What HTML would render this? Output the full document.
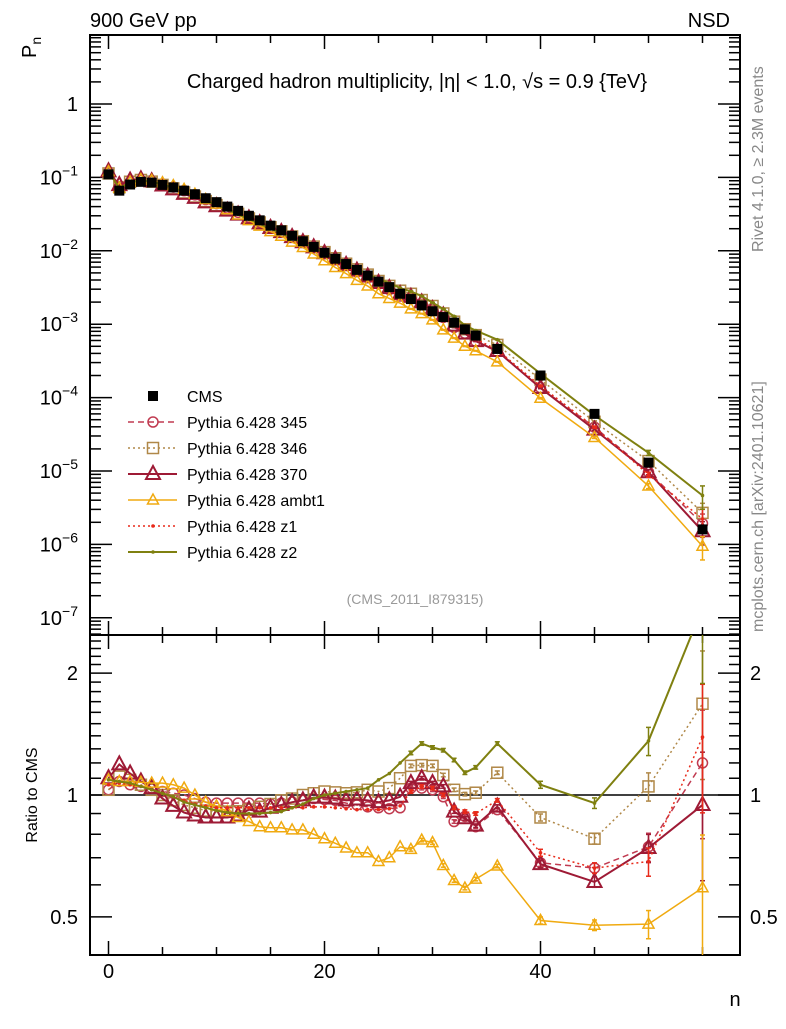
<!DOCTYPE html>
<html><head><meta charset="utf-8"><style>
body{margin:0;background:#fff}
svg text{font-family:"Liberation Sans",sans-serif;fill:#000}
</style></head><body>
<svg id="c" width="786" height="1024" xmlns="http://www.w3.org/2000/svg"></svg>
<script>
const nVals=[0,1,2,3,4,5,6,7,8,9,10,11,12,13,14,15,16,17,18,19,20,21,22,23,24,25,26,27,28,29,30,31,32,33,34,36,40,45,50,55];
const cmsVals=[0.11,0.066,0.08,0.087,0.085,0.079,0.073,0.066,0.059,0.052,0.046,0.040,0.035,0.030,0.026,0.022,0.019,0.016,0.0135,0.0113,0.0094,0.0078,0.0066,0.0055,0.0046,0.0038,0.0032,0.0026,0.0022,0.0018,0.0015,0.00125,0.00105,0.00085,0.0007,0.00046,0.0002,0.00006,0.000013,0.0000016];
const r345=[1.03,1.08,1.06,1.05,1.04,1.02,1.01,1.0,0.98,0.96,0.955,0.955,0.955,0.955,0.955,0.95,0.955,0.96,0.97,0.98,0.975,0.97,0.955,0.945,0.935,0.93,0.925,0.93,1.04,1.04,1.03,0.99,0.86,0.885,0.835,0.92,0.68,0.66,0.745,1.2];
const r346=[1.03,1.11,1.09,1.06,1.03,1.0,0.97,0.945,0.93,0.915,0.91,0.91,0.912,0.92,0.935,0.95,0.97,0.98,1.0,1.01,1.02,1.015,1.01,1.015,1.03,1.02,1.04,1.1,1.18,1.185,1.18,1.12,1.03,1.005,1.013,1.135,0.88,0.78,1.05,1.68];
const r370=[1.1,1.19,1.13,1.08,1.04,0.98,0.94,0.905,0.89,0.88,0.88,0.88,0.89,0.92,0.91,0.93,0.945,0.96,0.97,0.985,0.985,0.98,0.97,0.975,0.97,0.96,0.97,0.99,1.07,1.1,1.07,1.05,0.91,0.876,0.84,0.936,0.675,0.61,0.74,0.945];
const rAmbt1=[1.09,1.08,1.08,1.075,1.07,1.07,1.06,1.04,1.0,0.96,0.94,0.91,0.88,0.86,0.835,0.83,0.83,0.82,0.82,0.8,0.78,0.76,0.74,0.72,0.72,0.685,0.7,0.745,0.734,0.774,0.763,0.67,0.615,0.589,0.62,0.668,0.49,0.477,0.48,0.59];
const rZ1=[1.06,1.07,1.06,1.05,1.03,1.01,0.99,0.97,0.95,0.94,0.93,0.93,0.93,0.93,0.93,0.93,0.93,0.93,0.93,0.935,0.935,0.93,0.925,0.92,0.92,0.92,0.925,0.94,1.02,1.05,1.04,1.0,0.93,0.91,0.9,0.97,0.72,0.66,0.685,1.39];
const rZ2=[1.09,1.08,1.07,1.05,1.03,1.01,0.99,0.96,0.945,0.93,0.915,0.905,0.9,0.9,0.9,0.905,0.91,0.93,0.95,0.98,1.0,1.01,1.02,1.03,1.04,1.09,1.13,1.2,1.27,1.34,1.31,1.29,1.22,1.135,1.17,1.34,1.06,0.955,1.36,2.9];
const ratioErr=[0,0,0,0,0,0,0,0,0,0,0,0,0,0,0,0,0,0,0,0,0,0,0,0,0,0,0,0,0.01,0.01,0.01,0.01,0.01,0.01,0.01,0.01,0.02,0.03,0.08,0.35];
const mainTickExp=[0,-1,-2,-3,-4,-5,-6,-7];
const ratioTicks=[0.5,1,2];
const xTicks=[0,20,40];

const svg=document.getElementById('c');
const NS='http://www.w3.org/2000/svg';
const L=90,R=740,T=35,MB=635,RB=955;
const xs=n=>108.5+10.8*n;
const ym=v=>104-73.4*Math.log10(v);
const yr=v=>795-405*Math.log10(v);
function mk(tag,at,parent){const e=document.createElementNS(NS,tag);for(const k in at)e.setAttribute(k,at[k]);(parent||svg).appendChild(e);return e;}
function txt(s,x,y,size,anchor,extra){const t=mk('text',Object.assign({x:x,y:y,'font-size':size,'text-anchor':anchor||'start'},extra||{}));t.textContent=s;return t;}

const defs=mk('defs',{});
const c1=mk('clipPath',{id:'cm'},defs);mk('rect',{x:L,y:T,width:R-L,height:MB-T},c1);
const c2=mk('clipPath',{id:'cr'},defs);mk('rect',{x:L,y:MB,width:R-L,height:RB-MB},c2);

let f=mk('rect',{x:L,y:T,width:R-L,height:MB-T,fill:'none',stroke:'#000','stroke-width':2});

f=mk('rect',{x:L,y:MB,width:R-L,height:RB-MB,fill:'none',stroke:'#000','stroke-width':2});


for(let n=0;n<=55;n+=5){const major=xTicks.includes(n);const len=major?14:8;
 mk('line',{x1:xs(n),x2:xs(n),y1:T,y2:T+len,stroke:'#000','stroke-width':1.5});
 mk('line',{x1:xs(n),x2:xs(n),y1:MB,y2:MB-len,stroke:'#000','stroke-width':1.5});
 mk('line',{x1:xs(n),x2:xs(n),y1:MB,y2:MB+len,stroke:'#000','stroke-width':1.5});
 mk('line',{x1:xs(n),x2:xs(n),y1:RB,y2:RB-len,stroke:'#000','stroke-width':1.5});}
xTicks.forEach(n=>{const t=txt(String(n),xs(n),978,20,'middle');});
let t=txt('n',735,1006,20,'middle');

for(let e=1;e>=-8;e--){for(let m=1;m<10;m++){const v=m*Math.pow(10,e);const y=ym(v);if(y<T||y>MB)continue;const len=m==1?22:11;
 mk('line',{x1:L,x2:L+len,y1:y,y2:y,stroke:'#000','stroke-width':1.5});
 mk('line',{x1:R,x2:R-len,y1:y,y2:y,stroke:'#000','stroke-width':1.5});}}
mainTickExp.forEach(e=>{const y=ym(Math.pow(10,e));let t;
 if(e==0){t=txt('1',78,y+7,20,'end');}
 else{t=mk('text',{x:78,y:y+7,'font-size':20,'text-anchor':'end'});t.innerHTML='10<tspan dy="-9" font-size="14">'+(e<0?'−':'')+Math.abs(e)+'</tspan>';}
 });
t=mk('text',{x:0,y:0,'font-size':20,transform:'translate(36,58) rotate(-90)'});t.innerHTML='P<tspan dy="5" dx="0" font-size="14">n</tspan>';


for(let v=0.4;v<2.5;v+=0.1){const vv=Math.round(v*10)/10;const y=yr(vv);if(y<MB||y>RB)continue;const major=ratioTicks.includes(vv);const len=major?22:11;
 mk('line',{x1:L,x2:L+len,y1:y,y2:y,stroke:'#000','stroke-width':1.5});
 mk('line',{x1:R,x2:R-len,y1:y,y2:y,stroke:'#000','stroke-width':1.5});}
ratioTicks.forEach(v=>{let t=txt(String(v),78,yr(v)+7,20,'end');
 t=txt(String(v),750,yr(v)+7,20,'start');});
t=txt('Ratio to CMS',0,0,16,'middle',{transform:'translate(37,795) rotate(-90)'});
let l1=mk('line',{x1:L,x2:R,y1:yr(1),y2:yr(1),stroke:'#000','stroke-width':1.5});

t=txt('900 GeV pp',90,27,20);
t=txt('NSD',730,27,20,'end');
t=mk('text',{x:417,y:88,'font-size':20,'text-anchor':'middle'});t.innerHTML='Charged hadron multiplicity, |η| &lt; 1.0, √s = 0.9 {TeV}';

t=txt('(CMS_2011_I879315)',415,604,14,'middle',{style:'fill:#999'});
t=txt('Rivet 4.1.0, ≥ 2.3M events',0,0,16,'start',{transform:'translate(763,252) rotate(-90)',style:'fill:#888'});
t=txt('mcplots.cern.ch [arXiv:2401.10621]',0,0,16,'start',{transform:'translate(763,632) rotate(-90)',style:'fill:#888'});

const series=[
 {name:'345',r:r345,color:'#c03a50',dash:'6,4',marker:'circle',w:1.5},
 {name:'346',r:r346,color:'#b08848',dash:'2,3',marker:'square',w:1.5},
 {name:'370',r:r370,color:'#9e1a35',dash:'',marker:'tri',w:2},
 {name:'ambt1',r:rAmbt1,color:'#f0aa10',dash:'',marker:'tri-s',w:1.5},
 {name:'z1',r:rZ1,color:'#e82a1a',dash:'2,3',marker:'dot',w:1.5},
 {name:'z2',r:rZ2,color:'#7f8010',dash:'',marker:'dot',w:2},
];
function marker(g,type,x,y,color){
 if(type=='circle')return mk('circle',{cx:x,cy:y,r:5,fill:'none',stroke:color,'stroke-width':1.5},g);
 if(type=='square')return mk('rect',{x:x-5.5,y:y-5.5,width:11,height:11,fill:'none',stroke:color,'stroke-width':1.5},g);
 if(type=='tri')return mk('polygon',{points:`${x},${y-8} ${x-7},${y+5} ${x+7},${y+5}`,fill:'none',stroke:color,'stroke-width':2},g);
 if(type=='tri-s')return mk('polygon',{points:`${x},${y-6} ${x-5.5},${y+4} ${x+5.5},${y+4}`,fill:'none',stroke:color,'stroke-width':1.5},g);
 return mk('circle',{cx:x,cy:y,r:1.8,fill:color},g);
}
function drawSeries(s,panel){
 const g=mk('g',{'clip-path':panel=='main'?'url(#cm)':'url(#cr)'});
 
 
 const pts=nVals.map((n,i)=>[xs(n),panel=='main'?ym(cmsVals[i]*s.r[i]):yr(s.r[i])]);
 mk('polyline',{points:pts.map(p=>p.join(',')).join(' '),fill:'none',stroke:s.color,'stroke-width':s.w,'stroke-dasharray':s.dash},g);
 nVals.forEach((n,i)=>{const e=ratioErr[i];if(!e)return;const v=s.r[i];
  const y1=panel=='main'?ym(cmsVals[i]*v*(1+e)):yr(v*(1+e));const y2=panel=='main'?ym(cmsVals[i]*Math.max(v*(1-e),1e-9)):yr(Math.max(v*(1-e),0.01));
  mk('line',{x1:xs(n),x2:xs(n),y1:y1,y2:y2,stroke:s.color,'stroke-width':1.5},g);
  mk('line',{x1:xs(n)-2.5,x2:xs(n)+2.5,y1:y1,y2:y1,stroke:s.color,'stroke-width':1.5},g);
  mk('line',{x1:xs(n)-2.5,x2:xs(n)+2.5,y1:y2,y2:y2,stroke:s.color,'stroke-width':1.5},g);});
 pts.forEach(p=>{const m=marker(g,s.marker,p[0],p[1],s.color);});
}
const gc=mk('g',{'clip-path':'url(#cm)'});
series.forEach(s=>drawSeries(s,'main'));
nVals.forEach((n,i)=>{const r=mk('rect',{x:xs(n)-5,y:ym(cmsVals[i])-5,width:10,height:10,fill:'#000'},gc);
 });
svg.appendChild(gc);
series.forEach(s=>drawSeries(s,'ratio'));

const labels=['CMS','Pythia 6.428 345','Pythia 6.428 346','Pythia 6.428 370','Pythia 6.428 ambt1','Pythia 6.428 z1','Pythia 6.428 z2'];
labels.forEach((lab,i)=>{const y=396+26*i;const g=mk('g',{});
 
 if(i==0){mk('rect',{x:148,y:y-5,width:10,height:10,fill:'#000'},g);}
 else{const s=series[i-1];mk('line',{x1:128,x2:177,y1:y,y2:y,stroke:s.color,'stroke-width':s.w,'stroke-dasharray':s.dash},g);marker(g,s.marker,153,y,s.color);}
 const t=txt(lab,187,y+6,16,'start');g.appendChild(t);});
</script>
</body></html>
